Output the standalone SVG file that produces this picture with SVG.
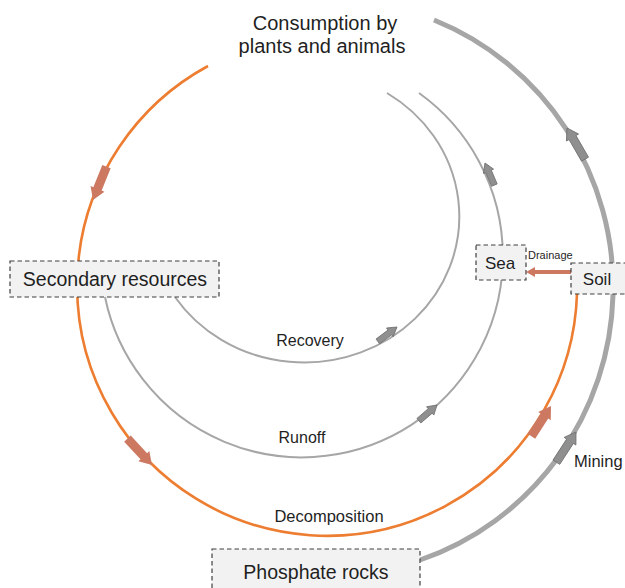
<svg xmlns="http://www.w3.org/2000/svg" width="625" height="588" viewBox="0 0 625 588">
<style>
text{font-family:"Liberation Sans",Arial,sans-serif;fill:#1f1f1f}
.c{text-anchor:middle}
.box{fill:#f2f2f2;stroke:#3f3f3f;stroke-width:1.2;stroke-dasharray:4.5 3}
.orange{fill:none;stroke:#ed7d31;stroke-width:2.6}
.thin{fill:none;stroke:#a6a6a6;stroke-width:2}
.thick{fill:none;stroke:#a6a6a6;stroke-width:5}
</style>
<defs>
<polygon id="ao" points="0,0 -12,-7.5 -12,-4.5 -36,-4.5 -36,4.5 -12,4.5 -12,7.5" fill="#cd7962"/>
<polygon id="ag" points="0,0 -11,-7 -11,-4 -36,-4 -36,4 -11,4 -11,7" fill="#8f8f8f" stroke="#6f6f6f" stroke-width="0.8"/>
<polygon id="at" points="0,0 -9,-5.5 -9,-3 -24,-3 -24,3 -9,3 -9,5.5" fill="#8f8f8f" stroke="#6f6f6f" stroke-width="0.8"/>
</defs>
<g id="connectors">
<path class="orange" d="M208,66 A250,250 0 1 0 577,294"/>
<path class="thick" d="M434,20 A285,288 0 0 1 420,560"/>
<path class="thin" d="M419,93 A201,201 0 1 1 105,297"/>
<path class="thin" d="M387,93 A155,146 0 1 1 175,297"/>
<use href="#ao" transform="translate(93,200) rotate(112)"/>
<use href="#ao" transform="translate(152,465) rotate(47)"/>
<use href="#ao" transform="translate(551,406) rotate(-57)"/>
<use href="#ag" transform="translate(567,128) rotate(-120)"/>
<use href="#ag" transform="translate(576,432) rotate(-57)"/>
<use href="#at" transform="translate(485,163) rotate(-113)"/>
<use href="#at" transform="translate(437,405) rotate(-41)"/>
<use href="#at" transform="translate(397,327) rotate(-37)"/>
<line x1="571" y1="272" x2="534" y2="272" stroke="#cd7962" stroke-width="4"/>
<polygon points="526,272 535,267 535,277" fill="#cd7962"/>
<text x="528" y="259" font-size="11">Drainage</text>
<text class="c" x="310" y="346" font-size="16">Recovery</text>
<text class="c" x="302" y="443" font-size="16">Runoff</text>
<text class="c" x="329" y="522" font-size="16.5">Decomposition</text>
<text x="574" y="467" font-size="16.5">Mining</text>
</g>
<g id="consumption">
<text class="c" x="325" y="30" font-size="20">Consumption by</text>
<text class="c" x="322" y="53" font-size="20">plants and animals</text>
</g>
<g id="secondary">
<rect class="box" x="10" y="261" width="209" height="36"/>
<text class="c" x="115" y="286" font-size="19.5">Secondary resources</text>
</g>
<g id="sea">
<rect class="box" x="476" y="245" width="50" height="35"/>
<text class="c" x="500" y="269" font-size="17">Sea</text>
</g>
<g id="soil">
<rect class="box" x="571" y="263" width="60" height="31"/>
<text class="c" x="597" y="285" font-size="17">Soil</text>
</g>
<g id="phosphate">
<rect class="box" x="212" y="549" width="208" height="44"/>
<text class="c" x="316" y="579" font-size="19.5">Phosphate rocks</text>
</g>
</svg>
